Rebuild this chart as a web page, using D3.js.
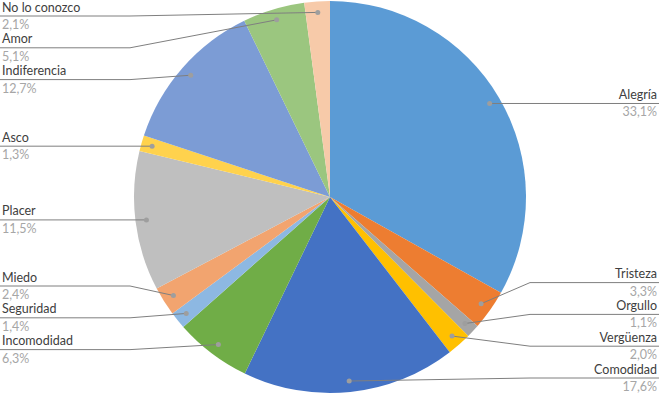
<!DOCTYPE html>
<html>
  <head>
    <meta charset="utf-8" />
    <script src="https://d3js.org/d3.v7.min.js"></script>
    <style>
      html,
      body {
        margin: 0;
        padding: 0;
        background: #fff;
      }
      svg text {
        font-family: Lato, "Liberation Sans", sans-serif;
        font-size: 12.5px;
      }
    </style>
  </head>
  <body>
    <div id="chart"></div>
    <script>
      const categories = [
        "Alegría",
        "Tristeza",
        "Orgullo",
        "Vergüenza",
        "Comodidad",
        "Incomodidad",
        "Seguridad",
        "Miedo",
        "Placer",
        "Asco",
        "Indiferencia",
        "Amor",
        "No lo conozco",
      ];
      const values = [33.1, 3.3, 1.1, 2.0, 17.6, 6.3, 1.4, 2.4, 11.5, 1.3, 12.7, 5.1, 2.1];
      const colors = [
        "#5b9bd5",
        "#ed7d31",
        "#a5a5a5",
        "#ffc000",
        "#4472c4",
        "#70ad47",
        "#8db8e2",
        "#f2a46f",
        "#bfbfbf",
        "#ffd24d",
        "#7c9cd5",
        "#9bc67f",
        "#f7caa9",
      ];

      const width = 659;
      const height = 396;
      const cx = 330;
      const cy = 197;
      const radius = 196;

      const svg = d3
        .select("#chart")
        .append("svg")
        .attr("width", width)
        .attr("height", height);

      const pie = d3.pie().sort(null).value((d) => d);
      const arcs = pie(values);

      const arc = d3.arc().innerRadius(0).outerRadius(radius);
      const dotArc = d3.arc().innerRadius(185).outerRadius(185);

      const g = svg.append("g").attr("transform", `translate(${cx},${cy})`);

      g.selectAll("path")
        .data(arcs)
        .enter()
        .append("path")
        .attr("d", arc)
        .attr("fill", (d, i) => colors[i]);

      // label info
      const labels = arcs.map((d, i) => {
        const c = dotArc.centroid(d);
        return {
          name: categories[i],
          pct: values[i].toFixed(1).replace(".", ",") + "%",
          x: cx + c[0],
          y: cy + c[1],
          left: c[0] < 0,
        };
      });

      // spread labels vertically so they don't overlap
      function spread(items, gap, lo, hi) {
        items.sort((a, b) => a.y - b.y);
        const groups = [];
        const startOf = (grp) => {
          const m = d3.mean(grp, (d, k) => d.y - k * gap);
          return Math.max(lo, Math.min(hi - (grp.length - 1) * gap, m));
        };
        items.forEach((d) => {
          groups.push([d]);
          while (groups.length > 1) {
            const cur = groups[groups.length - 1];
            const prev = groups[groups.length - 2];
            if (startOf(prev) + prev.length * gap > startOf(cur)) {
              groups.splice(groups.length - 2, 2, prev.concat(cur));
            } else break;
          }
        });
        groups.forEach((grp) => {
          const s = startOf(grp);
          grp.forEach((d, k) => (d.ly = s + k * gap));
        });
      }

      const gap = 31.8;
      spread(labels.filter((d) => d.left), gap, 16, 378);
      spread(labels.filter((d) => !d.left), gap, 16, 378);

      const lab = svg.append("g");

      lab
        .selectAll("polyline")
        .data(labels)
        .enter()
        .append("polyline")
        .attr("fill", "none")
        .attr("stroke", "#7f7f7f")
        .attr("stroke-width", 1)
        .attr("points", (d) =>
          d.left
            ? [[0, d.ly], [130, d.ly], [d.x, d.y]].join(" ")
            : [[width, d.ly], [530, d.ly], [d.x, d.y]].join(" ")
        );

      lab
        .selectAll("circle")
        .data(labels)
        .enter()
        .append("circle")
        .attr("cx", (d) => d.x)
        .attr("cy", (d) => d.y)
        .attr("r", 2.5)
        .attr("fill", "#9e9e9e");

      lab
        .selectAll("text.name")
        .data(labels)
        .enter()
        .append("text")
        .attr("class", "name")
        .attr("x", (d) => (d.left ? 2 : width - 2))
        .attr("y", (d) => d.ly - 4.5)
        .attr("text-anchor", (d) => (d.left ? "start" : "end"))
        .attr("fill", "#404040")
        .text((d) => d.name);

      lab
        .selectAll("text.pct")
        .data(labels)
        .enter()
        .append("text")
        .attr("class", "pct")
        .attr("x", (d) => (d.left ? 2 : width - 2))
        .attr("y", (d) => d.ly + 13)
        .attr("text-anchor", (d) => (d.left ? "start" : "end"))
        .attr("fill", "#a6a6a6")
        .text((d) => d.pct);
    </script>
  </body>
</html>
